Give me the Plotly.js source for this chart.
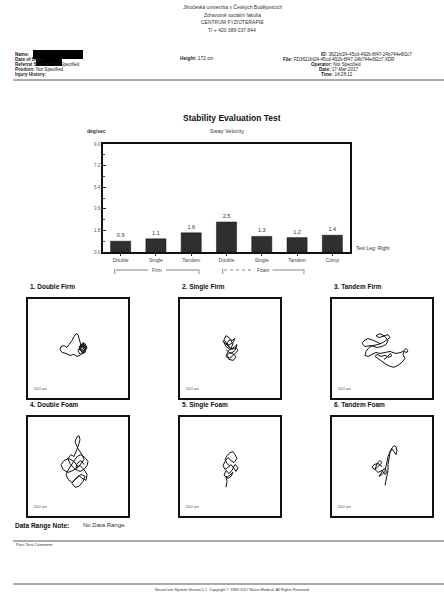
<!DOCTYPE html>
<html>
<head>
<meta charset="utf-8">
<script src="https://cdn.plot.ly/plotly-3.0.1.min.js"></script>
<style>html,body{margin:0;padding:0;background:#fff}#chart{width:444px;height:592px}</style>
</head>
<body>
<div id="chart"></div>
<script>
// ---------- data ----------
const categories = ['Double', 'Single', 'Tandem', 'Double', 'Single', 'Tandem', 'Comp'];
const swayVelocity = [0.9, 1.1, 1.6, 2.5, 1.3, 1.2, 1.4];
const yTickValues = [0, 1.8, 3.6, 5.4, 7.2, 9.0];
const groupLabels = ['Firm', 'Foam'];
const panelTitles = ['1. Double Firm', '2. Single Firm', '3. Tandem Firm', '4. Double Foam', '5. Single Foam', '6. Tandem Foam'];
const panelDuration = '20.0 sec';

const sway1x = [3,6,9,5,1,4,8,6,2,0,3,7,9,5,2,-1,-4,-8,-12,-16,-18,-17,-14,-11,-9,-6,-4,-2,0,1,2,3,5,7,4,1,3,6,8,5,2,4,7,3];
const sway1y = [0,3,1,-3,-1,4,2,-4,-6,-2,3,5,0,-3,-7,-8,-6,-7,-5,-4,-1,2,3,1,4,8,12,15,14,11,7,3,6,2,-2,1,4,0,-3,-5,-1,3,1,-2];
const sway2x = [0,-3,-6,-4,-1,2,5,3,-2,-5,-7,-4,0,4,7,5,1,-2,-4,-1,3,6,4,0,-3,-1,2,5,8,6,2,-1,-3,0,3,1,-2,-4];
const sway2y = [0,4,9,13,11,8,10,6,3,5,8,2,-1,1,4,-2,-5,-3,-8,-11,-12,-9,-6,-4,-7,-10,-8,-5,-2,1,-1,2,6,9,5,0,-3,-1];
const sway3x = [-2,-8,-14,-18,-20,-17,-11,-5,0,4,6,3,-2,-6,-3,2,6,8,5,1,-4,-9,-13,-16,-17,-14,-10,-6,-2,3,8,14,19,22,24,26,25,22,21,23,20,16,12,8,4,0,-4,-7,-5,-1,3,7,10,8,5,2];
const sway3y = [5,8,10,8,5,2,3,1,2,4,8,12,15,13,11,13,14,11,9,6,4,3,1,-3,-7,-8,-6,-4,-5,-4,-3,-5,-4,-2,0,-2,-4,-3,-6,-10,-14,-17,-19,-18,-16,-13,-10,-8,-6,-8,-7,-9,-7,-5,-9,-11];
const sway4x = [0,-4,-9,-14,-17,-15,-10,-5,0,3,6,4,0,-3,-1,1,2,0,-2,-4,-7,-10,-8,-4,2,6,9,10,7,3,-1,-5,-9,-12,-10,-6,-2,3,7,5,1,-3,-6,-3,1,4,8,9,6,2,-2,-1,3,6];
const sway4y = [0,5,8,6,2,-3,-6,-4,-1,3,7,12,18,25,30,31,27,20,14,10,12,8,3,-2,-5,-3,1,5,9,12,10,4,-2,-8,-13,-16,-12,-8,-10,-15,-20,-21,-17,-13,-9,-12,-14,-8,-3,1,-1,3,6,2];
const sway5x = [0,-3,-5,-3,0,3,5,7,4,1,-2,-5,-7,-5,-2,1,4,6,8,5,2,-1,-4,-6,-3,0,3,1,-2,-4,-3,-4];
const sway5y = [0,3,7,11,14,15,12,8,4,6,9,5,1,-3,-1,2,-2,-5,-1,2,-4,-7,-4,-9,-11,-8,-6,-10,-12,-10,-15,-21];
const sway6x = [0,-4,-8,-10,-7,-3,0,-2,-5,-7,-4,0,3,5,2,-1,-3,0,3,4,5,6,8,10,12,14,15,14,12,10,8,7,6,6,5,4,3];
const sway6y = [0,3,2,-1,-3,1,4,6,3,-3,-6,-4,-8,-5,-2,-7,-10,-8,-5,0,5,10,15,19,21,20,16,12,15,18,14,8,2,-4,-10,-15,-19];

// ---------- layout helpers ----------
const W = 444, H = 592;
const FONT = 'Liberation Sans, Arial, sans-serif';
const px = x => x / W;
const py = y => 1 - y / H;
const ann = (x, y, text, size, opts) => Object.assign({
  xref: 'paper', yref: 'paper', x: px(x), y: py(y), text: text, showarrow: false,
  xanchor: 'left', yanchor: 'middle', valign: 'middle', height: Math.ceil(size * 1.6),
  font: {family: FONT, size: size, color: '#1a1a1a'}
}, opts || {});

const swayX = [sway1x, sway2x, sway3x, sway4x, sway5x, sway6x];
const swayY = [sway1y, sway2y, sway3y, sway4y, sway5y, sway6y];

const colsPx = [28, 180, 332];
const rowsPx = [299, 417];
const boxW = 100, boxH = 99;

const traces = [{
  type: 'bar', x: categories.map((c, i) => i), y: swayVelocity, xaxis: 'x', yaxis: 'y',
  width: 0.57, marker: {color: '#303030', line: {color: '#111', width: 0.5}},
  text: swayVelocity.map(v => v.toFixed(1)), textposition: 'outside', cliponaxis: false,
  textfont: {family: FONT, size: 5.5, color: '#333'}, hoverinfo: 'skip'
}];

const layout = {
  width: W, height: H, margin: {l: 0, r: 0, t: 0, b: 0},
  paper_bgcolor: '#fff', plot_bgcolor: '#fff', showlegend: false,
  font: {family: FONT, color: '#1a1a1a'},
  xaxis: {
    domain: [px(103), px(350)], anchor: 'y', range: [-0.5, 6.5],
    tickvals: categories.map((c, i) => i), ticktext: categories,
    ticks: 'outside', ticklen: 2, tickcolor: '#222', tickfont: {family: FONT, size: 5, color: '#444'},
    showline: true, linecolor: '#111', linewidth: 1.8, mirror: true, showgrid: false, zeroline: false, fixedrange: true
  },
  yaxis: {
    domain: [py(252), py(144)], anchor: 'x', range: [0, 9],
    tickvals: yTickValues, ticktext: yTickValues.map(v => v.toFixed(1)),
    ticks: 'inside', ticklen: 3, tickcolor: '#222', tickfont: {family: FONT, size: 4.5, color: '#555'},
    minor: {dtick: 0.9, ticks: 'inside', ticklen: 2, tickcolor: '#444', showgrid: false},
    showline: true, linecolor: '#111', linewidth: 1.8, mirror: true, showgrid: false, zeroline: false, fixedrange: true
  },
  annotations: [],
  shapes: []
};

for (let i = 0; i < 6; i++) {
  const n = i + 2;
  const col = i % 3, row = Math.floor(i / 3);
  const x0 = colsPx[col], y0 = rowsPx[row];
  traces.push({
    type: 'scatter', mode: 'lines', x: swayX[i], y: swayY[i],
    xaxis: 'x' + n, yaxis: 'y' + n, line: {color: '#111', width: 1}, hoverinfo: 'skip'
  });
  const ax = {
    range: [-50, 50], showticklabels: false, ticks: '', showgrid: false, zeroline: false,
    showline: true, linecolor: '#111', linewidth: 1.6, mirror: true, fixedrange: true
  };
  layout['xaxis' + n] = Object.assign({domain: [px(x0), px(x0 + boxW)], anchor: 'y' + n}, ax);
  layout['yaxis' + n] = Object.assign({domain: [py(y0 + boxH), py(y0)], anchor: 'x' + n}, ax);
  layout.annotations.push(ann(x0, y0 - 13, '<b>' + panelTitles[i] + '</b>', 6.5, {font: {family: FONT, size: 6.5, color: '#111'}}));
  layout.annotations.push(ann(x0 + 4, y0 + boxH - 9, panelDuration, 3.5, {font: {family: FONT, size: 3.5, color: '#444'}}));
}

const A = layout.annotations;
// header
['Jihočeská univerzita v Českých Budějovicích', 'Zdravotně sociální fakulta', 'CENTRUM FYZIOTERAPIE', 'T/ + 420 389 037 844']
  .forEach((t, i) => A.push(ann(232, 7 + i * 7.7, t, 5, {xanchor: 'center', font: {family: FONT, size: 5, color: '#333'}})));
// patient block left
const leftRows = [['Name:', ''], ['Date of Birth:', ''], ['Referral Source:', 'Not Specified'], ['Position:', 'Not Specified'], ['Injury History:', '']];
leftRows.forEach((r, i) => A.push(ann(13, 54 + i * 4.9, '<b>' + r[0] + '</b> ' + r[1], 4.6)));
A.push(ann(178, 57.5, '<b>Height:</b> 172 cm', 4.8));
// right block
const rightRows = [[319, 'ID:', '3621bf24-45cd-492b-8f47-24b744e6f2c7'], [281, 'File:', 'FD3621bf24-45cd-492b-8f47-24b744e6f2c7.XDR'],
  [309, 'Operator:', 'Not Specified'], [317, 'Date:', '17-Mar-2017'], [319, 'Time:', '14:28:12']];
rightRows.forEach((r, i) => A.push(ann(r[0], 54 + i * 5, '<b>' + r[1] + '</b> ' + r[2], 4.6)));
// chart titles
A.push(ann(232, 118, '<b>Stability Evaluation Test</b>', 8.5, {xanchor: 'center', font: {family: FONT, size: 8.5, color: '#111'}}));
A.push(ann(227, 130, 'Sway Velocity', 5.5, {xanchor: 'center', font: {family: FONT, size: 5.5, color: '#333'}}));
A.push(ann(96, 131, '<b>deg/sec</b>', 5, {xanchor: 'center', font: {family: FONT, size: 5, color: '#333'}}));
A.push(ann(354, 248, 'Test Leg: Right', 5, {font: {family: FONT, size: 5, color: '#333'}}));
// group brackets
const brackets = [[112, 202], [220, 307]];
brackets.forEach((b, i) => {
  const mid = (b[0] + b[1]) / 2;
  A.push(ann(b[0], 270, '[', 5.5, {xanchor: 'left'}));
  A.push(ann(b[1], 270, ']', 5.5, {xanchor: 'right'}));
  A.push(ann(mid, 270, groupLabels[i], 5, {xanchor: 'center', font: {family: FONT, size: 5, color: '#444'}}));
  layout.shapes.push({type: 'line', xref: 'paper', yref: 'paper', x0: px(b[0] + 4), x1: px(mid - 9), y0: py(270), y1: py(270), line: {color: '#333', width: 0.6, dash: i === 1 ? 'dot' : 'solid'}});
  layout.shapes.push({type: 'line', xref: 'paper', yref: 'paper', x0: px(mid + 9), x1: px(b[1] - 4), y0: py(270), y1: py(270), line: {color: '#333', width: 0.6}});
});
// footer
A.push(ann(13, 525, '<b>Data Range Note:</b>', 6.5, {font: {family: FONT, size: 6.5, color: '#111'}}));
A.push(ann(81, 525, 'No Data Range.', 6, {font: {family: FONT, size: 6, color: '#333'}}));
A.push(ann(14, 544.5, 'Post Test Comment', 4.2, {font: {family: FONT, size: 4.2, color: '#333'}}));
A.push(ann(232, 589, 'NeuroCom System Version 5.1  Copyright © 1989-2017 Natus Medical. All Rights Reserved', 3.8, {xanchor: 'center', font: {family: FONT, size: 3.8, color: '#333'}}));

// rules
[80, 541, 584].forEach(y => layout.shapes.push({type: 'line', xref: 'paper', yref: 'paper', x0: px(13), x1: px(444), y0: py(y), y1: py(y), line: {color: '#444', width: 0.9}}));
// redaction blobs
layout.shapes.push({type: 'rect', xref: 'paper', yref: 'paper', x0: px(33), x1: px(83), y0: py(59), y1: py(50), fillcolor: '#000', line: {width: 0}});
layout.shapes.push({type: 'rect', xref: 'paper', yref: 'paper', x0: px(36), x1: px(62), y0: py(66), y1: py(57), fillcolor: '#000', line: {width: 0}});

Plotly.newPlot('chart', traces, layout, {displayModeBar: false, staticPlot: true});
</script>
</body>
</html>
